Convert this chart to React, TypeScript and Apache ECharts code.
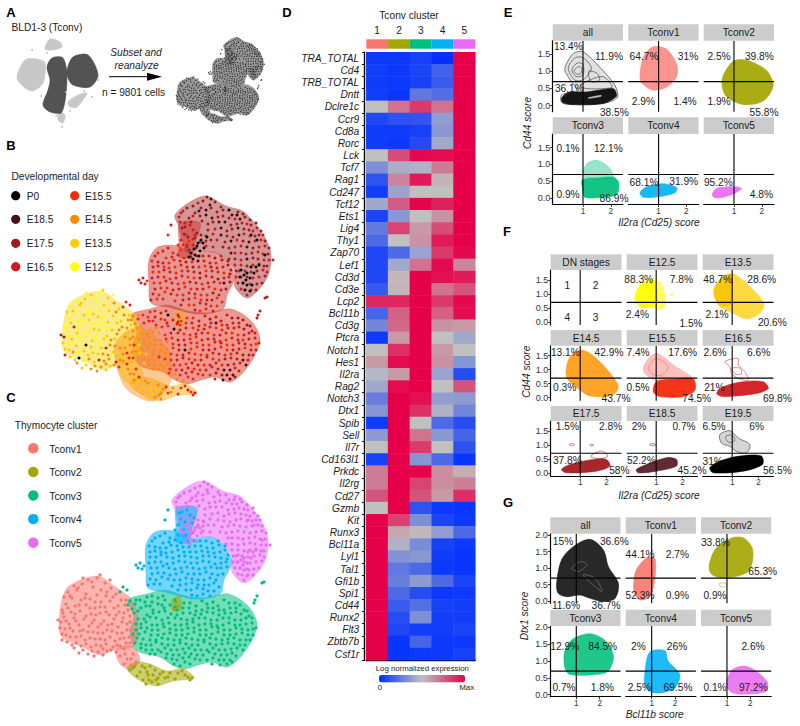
import React, { useEffect, useRef } from "react";
import * as echarts from "echarts";

const FONT = '"Liberation Sans", Arial, sans-serif';
const INK = "#1c1c1c";

const GENES = ["TRA_TOTAL","Cd4","TRB_TOTAL","Dntt","Dclre1c","Ccr9","Cd8a","Rorc","Lck","Tcf7","Rag1","Cd247","Tcf12","Ets1","Lig4","Thy1","Zap70","Lef1","Cd3d","Cd3e","Lcp2","Bcl11b","Cd3g","Ptcra","Notch1","Hes1","Il2ra","Rag2","Notch3","Dtx1","Spib","Sell","Il7r","Cd163l1","Prkdc","Il2rg","Cd27","Gzmb","Kit","Runx3","Bcl11a","Lyl1","Tal1","Gfi1b","Spi1","Cd44","Runx2","Flt3","Zbtb7b","Csf1r"];
const EXPRESSION = [
[.03,.03,.06,.0,1],[.05,.03,.07,.17,1],[.04,.03,.06,.15,1],[.05,.02,.25,.22,1],[.5,.7,.85,.7,1],[.08,.12,.13,.38,1],[.04,.04,.06,.36,1],[.04,.03,.09,.42,1],[.5,.8,.98,.97,1],[.33,.44,.45,.68,1],
[.12,.65,.93,.53,1],[.05,.4,.5,.5,1],[.42,.76,.99,.92,1],[.07,.36,.5,.62,1],[.26,.82,.6,.8,1],[.2,.5,.62,.93,1],[.08,.2,.4,.85,.98],[.08,.42,.7,.98,.65],[.08,.52,1,.96,.93],[.14,.53,1,.7,.78],
[.9,.9,1,.85,.98],[.18,.75,1,.75,.97],[.3,.73,1,.62,.6],[.03,.6,1,.5,.42],[.5,.88,1,.6,.5],[.6,.97,1,.62,.35],[.47,.6,1,.4,.1],[.42,.97,1,.5,.78],[.27,1,.96,.38,.37],[.35,1,.88,.45,.3],
[.04,1,.5,.2,.1],[.37,1,.7,.36,.18],[.5,1,.85,.5,.12],[.06,1,.35,.2,.02],[.68,1,.99,.63,.55],[.68,1,.82,.63,.67],[.78,1,.78,.6,.88],[.5,1,.12,.03,.02],[1,.83,.33,.07,.03],[1,.57,.52,.38,.2],
[1,.45,.32,.06,.03],[1,.34,.36,.04,.02],[1,.25,.2,.03,.02],[1,.27,.37,.2,.07],[1,.2,.1,.03,.03],[1,.15,.22,.06,.05],[1,.1,.33,.05,.05],[1,.08,.05,.05,.07],[1,.02,.18,.03,.03],[1,.02,.03,.03,.06]];
const CLUSTER_NUMS = ["1","2","3","4","5"];
const CLUSTERS = ["Tconv1","Tconv2","Tconv3","Tconv4","Tconv5"];
const CLUSTER_COLORS = ["#F8766D","#A3A500","#00BF7D","#00B0F6","#E76BF3"];
const DAYS = ["P0","E18.5","E17.5","E16.5","E15.5","E14.5","E13.5","E12.5"];
const DAY_COLORS = ["#000000","#4a0e14","#a01c20","#d01a20","#f52a0c","#ff8a00","#ffcc00","#ffff00"];

const CELLS_T1 = [[88,580,6],[97,578,7],[105,583,6],[74,586,7],[82,584,6],[93,587,7],[101,590,6],[111,588,5],[68,592,7],[77,590,6],[86,594,7],[97,595,7],[106,596,6],[116,594,6],[64,597,6],[72,598,7],[81,600,6],[90,599,6],[101,602,7],[110,601,6],[121,600,5],[66,604,7],[75,606,7],[86,605,6],[95,608,7],[105,607,6],[114,608,6],[125,605,5],[62,610,7],[71,612,3],[80,611,7],[91,614,6],[100,613,7],[109,615,6],[119,612,5],[128,610,6],[64,617,7],[74,618,6],[84,619,7],[94,620,7],[104,621,6],[114,619,5],[123,618,6],[130,616,5],[61,622,2],[69,624,6],[79,625,7],[89,626,6],[98,627,7],[108,625,5],[118,627,6],[127,624,5],[65,629,7],[73,631,6],[83,630,0],[93,632,7],[103,633,3],[112,631,5],[122,633,5],[131,630,4],[62,634,6],[70,637,5],[81,636,6],[90,638,6],[100,639,5],[110,637,6],[120,639,5],[129,637,5],[67,642,6],[76,643,0],[86,644,5],[96,645,3],[106,644,5],[117,645,5],[126,643,4],[74,648,5],[83,650,6],[92,651,5],[103,649,5],[113,647,3],[124,649,4],[88,654,5],[98,652,5],[107,651,6],[120,656,6],[127,659,5],[133,654,4],[124,664,6],[131,665,5],
[92,582,7],[78,588,6],[107,592,7],[70,596,6],[85,598,7],[95,602,6],[113,597,5],[68,608,6],[79,605,7],[90,608,7],[100,607,7],[118,606,6],[126,600,6],[63,613,7],[75,614,7],[86,616,7],[96,615,6],[106,612,7],[116,615,5],[124,613,5],[66,621,7],[76,621,7],[92,623,7],[101,624,6],[112,624,6],[122,622,5],[130,622,5],[60,628,6],[70,628,7],[80,631,7],[88,632,6],[98,633,6],[107,630,5],[117,633,5],[127,630,5],[66,635,6],[76,637,7],[85,640,6],[95,639,6],[105,640,5],[115,641,6],[124,638,4],[133,636,5],[62,640,3],[72,645,6],[81,646,7],[91,647,6],[101,646,5],[111,650,5],[120,646,5],[130,643,4],[79,653,6],[94,656,5],[103,655,6],[116,652,4],[125,654,5],[131,659,5],[136,662,4],[58,620,2],[100,575,6],[110,580,7],[83,578,7]];
const CELLS_T2 = [[130,670,6],[135,666,6],[140,672,6],[145,668,5],[150,666,6],[148,675,6],[155,670,5],[160,674,5],[143,680,6],[152,682,5],[158,684,5],[165,678,4],[170,673,5],[175,679,4],[182,671,4],[188,677,4],[192,678,3],[175,600,5],[178,606,4],[174,609,3],
[133,668,6],[142,666,5],[147,672,6],[153,675,6],[158,678,5],[137,676,6],[149,680,6],[156,680,5],[163,672,4],[168,677,5],[178,673,4],[185,675,3],[190,680,4],[146,684,6],[176,602,4]];
const CELLS_T3 = [[147,597,4],[158,598,3],[130,601,5],[140,600,4],[152,602,3],[165,600,0],[135,604,4],[146,606,3],[158,604,4],[170,605,3],[184,603,4],[196,606,3],[207,604,2],[218,606,3],[229,603,2],[132,609,5],[141,608,4],[153,610,4],[164,608,3],[177,610,4],[189,608,3],[202,610,4],[213,608,1],[224,610,3],[236,608,3],[244,610,2],[134,613,5],[147,615,5],[159,612,4],[171,614,0],[183,613,3],[195,615,4],[207,612,3],[219,615,4],[231,613,3],[241,614,2],[249,616,3],[138,619,5],[150,617,5],[162,620,4],[175,618,3],[187,620,4],[199,618,3],[211,620,4],[223,618,3],[235,620,4],[246,618,3],[136,624,5],[146,622,5],[157,625,5],[169,623,4],[181,625,3],[193,622,4],[205,624,3],[217,626,4],[229,623,3],[240,625,4],[252,623,3],[141,628,5],[152,630,5],[164,627,5],[176,630,3],[188,628,4],[200,630,4],[212,627,3],[224,630,4],[236,628,3],[248,630,4],[133,634,6],[145,632,5],[158,635,5],[170,633,4],[182,635,0],[194,632,4],[206,635,3],[218,632,4],[230,635,3],[242,633,4],[253,635,3],[137,638,6],[150,640,5],[162,638,5],[174,640,4],[186,638,3],[198,640,4],[210,638,3],[222,640,4],[234,638,3],[246,640,2],[135,643,5],[146,645,5],[156,642,4],[168,645,4],[180,643,3],[192,645,4],[204,642,3],[216,645,4],[228,643,3],[240,645,1],[141,648,6],[152,650,5],[165,648,5],[177,650,4],[189,648,3],[201,650,4],[213,648,3],[225,650,2],[237,648,3],[150,654,5],[161,652,5],[173,655,4],[185,653,3],[197,655,4],[209,652,3],[221,655,1],[232,653,3],[166,658,4],[177,660,4],[189,657,3],[200,660,4],[213,658,2],[224,660,1],[174,664,5],[185,662,4],[212,664,3],[227,664,1],
[152,596,4],[163,596,3],[136,600,5],[145,602,4],[175,600,3],[190,603,4],[202,601,3],[213,602,3],[224,600,3],[235,603,2],[128,605,5],[150,606,4],[162,605,4],[175,607,3],[183,608,4],[196,611,3],[208,608,3],[219,610,4],[230,608,3],[240,605,2],[138,611,5],[153,613,5],[165,611,4],[177,615,3],[190,613,4],[201,614,3],[213,613,4],[225,613,3],[236,612,3],[247,611,2],[144,619,5],[156,618,5],[168,618,3],[181,619,4],[193,619,3],[205,618,4],[217,620,3],[229,618,4],[241,620,3],[252,618,3],[141,624,5],[152,625,5],[163,624,4],[175,625,3],[187,624,4],[199,625,3],[211,624,3],[223,625,4],[235,625,3],[246,624,3],[256,628,3],[136,630,6],[147,628,5],[158,630,5],[170,629,4],[182,630,3],[194,628,4],[206,630,4],[218,628,3],[230,630,4],[242,629,3],[253,629,4],[139,634,5],[151,635,5],[164,634,5],[176,635,3],[188,634,4],[200,635,3],[212,634,3],[224,635,4],[236,634,3],[248,635,3],[143,639,6],[156,640,5],[168,639,4],[180,640,3],[192,639,4],[204,640,4],[216,639,3],[228,639,4],[240,640,2],[250,640,3],[141,644,5],[151,645,5],[162,644,4],[174,645,3],[186,644,4],[198,645,3],[210,644,4],[222,644,2],[234,644,3],[245,645,3],[146,650,5],[158,650,5],[171,650,4],[183,649,4],[195,650,3],[207,650,3],[219,650,4],[231,649,3],[243,650,1],[155,654,5],[167,654,4],[179,655,3],[191,654,4],[203,655,3],[215,654,3],[227,655,1],[236,656,3],[172,659,5],[183,658,3],[195,659,4],[207,660,4],[219,660,2],[230,660,1],[180,666,5],[190,664,4],[220,665,1],[232,662,2],[255,600,3],[257,596,3],[254,603,2],[262,583,3],[264,582,2],[123,587,4],[120,592,4],[127,590,3]];
const CELLS_T4 = [[160,536,3],[170,538,4],[186,535,2],[152,541,3],[163,543,4],[175,540,3],[188,542,2],[200,541,3],[212,543,2],[149,546,4],[160,548,3],[171,545,4],[183,547,2],[195,546,1],[207,548,3],[219,545,2],[155,551,3],[166,553,4],[178,550,3],[190,552,2],[202,551,4],[214,553,3],[225,550,2],[150,557,4],[161,555,3],[173,558,4],[185,556,3],[197,558,2],[209,556,3],[221,558,4],[228,555,2],[155,562,3],[167,564,4],[179,561,3],[191,563,4],[203,561,3],[215,564,2],[226,562,3],[151,568,4],[163,566,3],[175,569,4],[187,567,3],[199,569,4],[211,567,3],[221,568,1],[158,573,4],[170,575,3],[182,572,4],[194,574,3],[206,572,4],[218,575,3],[150,579,3],[162,577,4],[174,580,4],[186,578,3],[198,580,4],[210,578,2],[154,584,4],[180,585,3],[192,583,4],[204,585,3],[214,583,4],[186,590,4],[197,588,3],[208,591,4],[192,595,3],[203,594,4],[182,512,2],[190,515,3],[185,522,2],[178,525,3],[194,518,2],
[165,533,3],[178,535,4],[155,538,4],[169,542,3],[181,543,4],[194,541,2],[206,541,3],[218,541,3],[155,547,3],[166,548,4],[177,546,3],[189,547,4],[201,546,3],[213,548,4],[225,546,2],[150,552,3],[161,552,4],[172,552,4],[184,552,3],[196,552,4],[208,552,2],[220,552,3],[156,557,4],[167,557,3],[179,556,4],[191,557,3],[203,556,4],[215,557,3],[227,559,2],[149,563,3],[161,562,4],[173,563,3],[185,562,4],[197,563,2],[209,562,3],[221,563,3],[157,568,4],[169,568,3],[181,568,4],[193,568,3],[205,568,3],[217,568,4],[227,567,2],[152,574,3],[164,573,4],[176,574,3],[188,574,4],[200,574,3],[212,574,4],[223,574,2],[156,580,4],[168,579,3],[180,580,4],[192,579,3],[204,580,4],[216,580,3],[148,585,3],[160,584,4],[172,586,4],[186,584,3],[198,585,4],[209,585,3],[219,587,4],[178,590,3],[191,590,4],[203,589,3],[214,591,4],[197,596,4],[210,596,3],[179,513,2],[187,510,3],[192,523,3],[181,519,2],[184,530,3],[175,530,4],[136,565,3],[140,563,3],[144,566,4],[138,568,3],[142,569,3],[168,510,3],[165,520,4]];
const CELLS_T5 = [[200,486,2],[208,484,1],[190,491,2],[198,493,2],[207,490,1],[218,492,2],[180,496,3],[192,498,2],[203,495,1],[214,497,2],[226,495,0],[235,497,2],[176,502,3],[186,503,2],[197,501,2],[209,503,1],[220,501,2],[232,504,3],[242,502,2],[182,508,3],[205,509,2],[216,507,1],[228,510,2],[239,508,3],[248,510,2],[212,514,3],[224,516,2],[235,513,1],[246,515,2],[254,513,3],[192,520,3],[203,521,2],[218,520,1],[230,522,2],[241,519,3],[252,521,2],[260,520,3],[186,526,4],[197,527,3],[208,525,2],[222,527,2],[234,525,3],[246,527,1],[258,525,3],[184,532,3],[193,533,2],[203,531,3],[226,533,2],[238,531,3],[250,533,2],[262,531,3],[232,538,3],[243,539,2],[255,537,3],[265,539,2],[226,544,2],[238,545,3],[250,543,2],[261,545,3],[232,550,3],[244,551,2],[256,549,3],[264,551,2],[236,556,3],[248,557,2],[260,555,3],[238,562,2],[250,563,3],[262,561,2],[240,568,3],[254,569,2],[238,574,3],[248,575,2],
[188,538,0],[191,534,0],[194,531,0],[197,536,0],[200,528,0],[192,540,0],[186,542,0],[198,525,0],[204,522,0],[195,528,0],[190,544,0],[196,541,0],[201,533,0],[238,555,0],[241,560,0],[244,558,0],[247,563,0],[240,568,0],[244,570,0],[249,570,0],[242,575,0],[247,576,0],[251,558,0],[237,562,0],[253,552,0],[256,550,0],[248,552,0],[243,565,0],[234,500,0],[248,520,0],[254,525,0],[262,540,0],
[204,482,2],[212,487,2],[195,488,3],[184,493,2],[196,496,1],[208,493,2],[220,495,2],[229,500,1],[240,499,2],[178,498,3],[190,501,3],[203,500,1],[215,502,2],[226,503,2],[237,504,1],[247,505,2],[177,507,3],[188,507,2],[199,506,2],[210,507,2],[222,507,1],[234,509,2],[244,509,3],[253,508,2],[205,515,2],[218,513,1],[229,514,2],[241,514,2],[250,516,3],[258,516,2],[183,520,4],[198,520,2],[210,519,3],[224,521,2],[236,520,1],[247,521,3],[256,520,2],[190,524,3],[203,526,2],[214,525,3],[228,526,1],[240,526,2],[252,526,3],[262,526,2],[180,530,4],[190,530,3],[210,532,3],[220,532,2],[232,532,3],[244,532,1],[256,532,3],[266,533,2],[228,538,1],[238,538,3],[249,538,2],[260,539,3],[232,544,2],[244,544,1],[255,544,2],[266,545,3],[238,550,3],[250,550,3],[261,551,2],[233,556,2],[242,556,3],[254,556,2],[264,557,3],[233,562,3],[244,562,2],[256,562,3],[235,568,2],[247,569,3],[259,568,2],[244,580,3],[253,575,2],[270,545,3]];
const CELLS = [CELLS_T1, CELLS_T2, CELLS_T3, CELLS_T4, CELLS_T5];

// cell-cloud outlines in the same embedding coordinates
const CLOUD_T1 = [[[59,628],[62,600],[69,586],[97,576],[114,586],[130,598],[137,612],[138,630],[134,646],[114,650],[100,655],[83,647],[63,638]],[[116,650],[132,646],[140,660],[130,669],[120,664]]];
const CLOUD_T2 = [[[127,668],[137,662],[150,664],[167,671],[183,669],[194,678],[173,681],[157,686],[143,682],[132,675]],[[172,600],[180,596],[181,610],[173,611]]];
const CLOUD_T3 = [[[128,600],[147,594],[165,590],[185,596],[205,598],[228,594],[248,606],[257,625],[246,650],[228,667],[212,662],[198,665],[184,669],[172,665],[160,657],[142,653],[134,648],[130,632],[134,615]]];
const CLOUD_T4 = [[[146,545],[155,532],[175,531],[190,538],[214,538],[232,560],[224,580],[220,594],[195,599],[165,592],[148,588],[146,568]],[[176,530],[177,508],[197,508],[192,528],[188,542],[176,542]]];
const CLOUD_T5 = [[[172,500],[187,487],[203,481],[223,491],[241,497],[261,521],[268,540],[264,563],[245,583],[232,572],[232,556],[214,538],[200,537],[183,537],[180,528],[175,510]]];
const CLOUDS = [CLOUD_T1, CLOUD_T2, CLOUD_T3, CLOUD_T4, CLOUD_T5];
const DAY_TINTS = ["#f8d820","#f4b010","#dc3420","#cc3028","#a83030"];
const ORANGE_BAND = [[112,630],[135,612],[165,635],[168,665],[150,686],[122,672]];

// panel A, left map
const MAP_LIGHT = [[[17,78],[25,60],[37,59],[45,63],[43,83],[33,91],[25,88]],[[45,49],[50,39],[60,42],[62,47],[53,50]],[[68,102],[78,95],[87,93],[83,100],[77,107],[70,107]],[[59,112],[65,115],[63,123],[58,120]]];
const MAP_DARK = [[[47,67],[52,58],[63,58],[67,77],[62,112],[50,112],[43,105],[48,90],[50,80]],[[67,70],[73,57],[88,55],[98,75],[90,87],[73,85],[68,78]]];
const MAP_STRAY = [[32,50],[66,92],[92,97],[62,127],[56,116],[70,111],[84,91],[98,80],[41,96],[47,53]];

const E_CONTOURS = [
 [{c:"#999",o:.3,p:[[.39,1.2],[.65,1.52],[.99,1.58],[1.61,1.12],[2.16,.58],[2.22,.22],[.53,.3],[.77,.45],[.53,.76],[.35,1.03]]},
  {c:"#333",o:.75,line:1,p:[[.39,1.2],[.65,1.52],[.99,1.58],[1.61,1.12],[2.16,.58],[2.22,.22],[1.61,.05],[.53,.03],[.23,.09],[.23,.31],[.77,.45],[.53,.76],[.35,1.03]]},
  {c:"#333",o:.75,line:1,p:[[.47,1.1],[.72,1.4],[1,1.4],[1.3,1.1],[1,.75],[.7,.75]]},
  {c:"#333",o:.75,line:1,p:[[.6,1.05],[.8,1.25],[1,1.2],[1,.9],[.75,.85]]},
  {c:"#333",o:.75,line:1,p:[[.68,1.02],[.85,1.14],[.95,1.1],[.93,.95],[.78,.92]]},
  {c:"#333",o:.75,line:1,p:[[1.2,1],[1.5,.95],[1.6,.75],[1.3,.7]]},
  {c:"#333",o:.75,line:1,p:[[.9,.6],[1.7,.85],[2.05,.55],[1.8,.5],[1.1,.5]]},
  {c:"#0a0a0a",o:.95,p:[[.23,.22],[.47,.38],[1.13,.4],[1.73,.47],[2.1,.49],[2.2,.27],[1.73,.06],[.65,.03],[.27,.09]]},
  {c:"#d0d0d0",o:.9,p:[[1.2,.23],[1.65,.3],[1.65,.27],[1.2,.21]]}],
 [{c:"#F8766D",o:.78,p:[[.33,.94],[.48,1.47],[.81,1.72],[1.29,1.65],[1.65,1.21],[1.65,.85],[1.29,.54],[.81,.45],[.39,.67]]}],
 [{c:"#A3A500",o:.92,p:[[.57,.76],[.96,1.29],[1.45,1.33],[2.17,1.03],[2.41,.58],[2.05,.13],[1.33,.03],[.72,.27]]}],
 [{c:"#00BF7D",o:.4,p:[[.99,.65],[1.13,1.01],[1.49,1.12],[1.92,.92],[2.1,.6],[1.5,.55]]},{c:"#00BF7D",o:.92,p:[[.98,.55],[1.5,.6],[2.1,.62],[2.28,.47],[2.22,.12],[1.73,.03],[1.07,.03],[.98,.29]]}],
 [{c:"#00B0F6",o:.9,p:[[.33,.16],[.57,.34],[1.17,.43],[1.65,.31],[1.59,.16],[1.05,.05],[.45,.03]]}],
 [{c:"#E76BF3",o:.92,p:[[.22,.12],[.36,.29],[.96,.34],[1.27,.29],[.96,.12],[.48,.01],[.27,.03]]}]];

const F_CONTOURS = [
 [],
 [{c:"#ffff00",o:.95,p:[[.19,.9],[.38,1.32],[.76,1.5],[1.01,1.44],[1.01,.6],[.51,.51],[.25,.67]]},{c:"#ffff00",o:.6,p:[[1,1.44],[1.14,1.44],[1.33,.96],[1.33,.55],[1.01,.43],[.95,.8]]},{c:"#ffff00",o:.7,p:[[1.54,1],[1.62,1.02],[1.62,.95],[1.54,.95]]}],
 [{c:"#ffd21e",o:.85,p:[[.3,1.08],[.53,1.5],[.96,1.74],[1.54,1.38],[2.2,.67],[2.05,.31],[1.54,.11],[1.04,.31],[.53,.55]]},{c:"#f8c000",o:.8,p:[[.3,1.08],[.53,1.5],[.96,1.68],[.96,.67],[.53,.6]]}],
 [{c:"#ff9a10",o:.9,p:[[.46,.93],[.61,1.46],[1.05,1.7],[1.62,1.4],[2.44,.45],[2.25,.1],[1.37,.06],[.92,.33],[.54,.63]]}],
 [{c:"#f8766d",o:.45,p:[[.51,1.05],[.76,1.46],[1.08,1.57],[1.65,1.17],[2.41,.67],[1.77,.57],[1.14,.57],[.63,.81]]},{c:"#f8766d",o:.9,line:1,p:[[.7,1.05],[1,1.4],[1.45,1.1],[1.2,.8],[.85,.85]]},{c:"#f52a0c",o:.95,p:[[.89,.21],[1.01,.57],[1.77,.67],[2.41,.67],[2.47,.27],[2.03,.04],[1.14,.04]]}],
 [{c:"#e04848",o:.8,line:1,p:[[.72,1.29],[1.23,1.4],[1.23,1.17],[1.48,.93],[1.61,.63],[1.23,.69],[.97,.87],[.91,1.11]]},{c:"#e04848",o:.8,line:1,p:[[1,1.05],[1.3,1.05],[1.35,.85],[1.1,.85]]},{c:"#d01a20",o:.95,p:[[.41,.15],[.66,.39],[1.42,.57],[2.18,.57],[2.37,.33],[1.92,.15],[.66,.04]]}],
 [{c:"#a01c20",o:.7,line:1,p:[[.58,1.01],[.67,1.05],[.78,1.01],[.67,.97]]},{c:"#a01c20",o:.7,line:1,p:[[1.36,.99],[1.43,1.02],[1.52,.99],[1.43,.96]]},{c:"#a01c20",o:.7,line:1,p:[[1.4,.6],[1.81,.78],[2.05,.6],[1.7,.5]]},{c:"#a01c20",o:.95,p:[[.29,.12],[.61,.3],[1.49,.48],[2,.48],[2.13,.24],[1.62,.06],[.48,0]]}],
 [{c:"#6a1a20",o:.7,line:1,p:[[.75,1.01],[.86,1.05],[.98,1.01],[.86,.97]]},{c:"#4a0e14",o:.88,p:[[.25,.12],[.63,.3],[1.39,.54],[1.77,.48],[1.77,.24],[1.01,.06],[.32,0]]}],
 [{c:"#888",o:.35,p:[[.53,1.37],[.91,1.51],[1.23,1.25],[1.67,1.01],[1.54,.71],[1.16,.77],[.91,.95],[.59,1.07]]},{c:"#444",o:.75,line:1,p:[[.53,1.37],[.91,1.51],[1.23,1.25],[1.67,1.01],[1.54,.71],[1.16,.77],[.91,.95],[.59,1.07]]},{c:"#444",o:.75,line:1,p:[[.75,1.3],[1,1.35],[1.1,1.15],[.85,1.1]]},{c:"#000",o:1,p:[[.15,.18],[.53,.42],[1.29,.6],[2.11,.6],[2.15,.3],[1.42,.06],[.28,0]]}]];

const G_CONTOURS = [
 [{c:"#0a0a0a",o:.88,p:[[.16,.54],[.37,1.25],[.87,1.65],[1.59,1.87],[2.16,1.55],[2.37,1.05],[2.8,.54],[2.66,.09],[2.16,-.01],[1.59,.09],[1.16,.19],[.59,.14],[.23,.24]]},{c:"#999",o:.6,line:1,p:[[.8,1],[1.2,1.2],[1.45,1.1],[1.1,.9]]},{c:"#999",o:.6,line:1,p:[[1.3,.8],[1.7,.5],[2.1,.3],[1.8,.7]]}],
 [{c:"#F8766D",o:.9,p:[[.23,.54],[.34,.95],[.77,1.3],[1.13,1.3],[1.13,.64],[.91,.14],[.49,.04],[.27,.24]]}],
 [{c:"#A3A500",o:.9,p:[[.24,1.1],[.53,1.6],[1.24,1.92],[1.74,1.9],[2.1,1.55],[1.96,.94],[1.31,.74],[.67,.72],[.31,.84]]},{c:"#A3A500",o:.6,line:1,p:[[.67,.54],[.96,.54],[.96,.44],[.74,.44]]}],
 [{c:"#00BF7D",o:.88,p:[[.51,1.31],[.87,1.66],[1.59,1.81],[2.23,1.61],[2.59,1.16],[2.37,.7],[1.87,.6],[.73,.6],[.51,.8]]}],
 [{c:"#00B0F6",o:.88,p:[[.7,.6],[.91,1.26],[1.56,1.31],[1.7,1],[2.2,.6],[1.99,.2],[1.34,.05],[.91,.1],[.7,.3]]}],
 [{c:"#E76BF3",o:.88,p:[[1.03,.5],[1.24,.75],[1.74,.85],[2.24,.7],[2.74,.35],[2.67,.1],[1.96,.02],[1.24,.05],[.99,.25]]}]];

const E_STRIPS = ["all","Tconv1","Tconv2","Tconv3","Tconv4","Tconv5"];
const F_STRIPS = ["DN stages","E12.5","E13.5","E14.5","E15.5","E16.5","E17.5","E18.5","E19.5"];
const G_STRIPS = ["all","Tconv1","Tconv2","Tconv3","Tconv4","Tconv5"];
const E_PCT = [["13.4%",235,140],["11.9%",357,168],["36.1%",238,265],["38.5%",373,336],["64.7%",462,168],["31%",594,168],["2.9%",460,305],["1.4%",585,305],["2.5%",687,168],["39.8%",808,168],["1.9%",687,305],["55.8%",822,336],["0.1%",234,446],["12.1%",355,446],["0.9%",234,582],["86.9%",372,594],["68.1%",462,546],["31.9%",581,543],["95.2%",685,546],["4.8%",814,582]];
const F_PCT = [["1",232,180],["2",317,180],["4",232,276],["3",317,276],["88.3%",446,164],["7.8%",574,164],["2.4%",442,268],["1.5%",603,295],["48.7%",683,164],["28.6%",815,164],["2.1%",681,268],["20.6%",847,291],["13.1%",226,383],["42.9%",357,383],["0.3%",224,486],["43.7%",378,520],["7.4%",444,383],["17.6%",578,383],["0.5%",444,486],["74.5%",620,520],["2.6%",675,383],["6.6%",806,383],["21%",673,486],["69.8%",862,520],["1.5%",232,604],["2.8%",362,604],["37.8%",232,706],["58%",388,737],["2%",447,604],["0.7%",582,604],["52.2%",454,706],["45.2%",606,737],["6.5%",672,604],["6%",800,604],["31%",668,708],["56.5%",862,737]];
const G_PCT = [["15%",219,213],["36.6%",373,213],["11.6%",228,405],["36.7%",348,405],["44.1%",450,254],["2.7%",562,254],["52.3%",450,375],["0.9%",562,375],["33.8%",676,216],["65.3%",818,305],["0.9%",675,375],["12.9%",224,530],["84.5%",338,530],["0.7%",222,652],["1.8%",337,652],["2%",445,530],["26%",561,530],["2.5%",448,652],["69.5%",564,652],["2.6%",789,530],["0.1%",675,652],["97.2%",790,652]];

function buildOption() {
  const grid: any[] = [], xAxis: any[] = [], yAxis: any[] = [], series: any[] = [], graphic: any[] = [];
  const hidden = (min: number, max: number, inverse = false) => ({ type: "value", show: false, min, max, inverse });
  const addGrid = (l: number, t: number, w: number, h: number, x: any, y: any) => {
    grid.push({ left: l, top: t, width: w, height: h, containLabel: false });
    const i = grid.length - 1;
    xAxis.push({ ...x, gridIndex: i });
    yAxis.push({ ...y, gridIndex: i });
    return i;
  };
  const txt = (s: string, x: number, y: number, o: any = {}) => {
    const { rotation, ...st } = o;
    graphic.push({ type: "text", x, y, rotation, z: 50, silent: true, style: { text: s, fontFamily: FONT, fontSize: 10.2, fill: INK, align: "center", verticalAlign: "middle", ...st } });
  };
  const polys = (i: number, rings: any[], z = 2) => {
    series.push({
      type: "custom", xAxisIndex: i, yAxisIndex: i, silent: true, z, clip: false,
      data: rings.map((r) => r.p[0]),
      renderItem: (p: any, api: any) => {
        const r = rings[p.dataIndex];
        return {
          type: "polygon",
          shape: { points: r.p.map((q: number[]) => api.coord(q)), smooth: 0.3 },
          style: r.line
            ? { fill: "none", stroke: r.c, lineWidth: 0.8, opacity: r.o }
            : { fill: r.c, stroke: r.c, lineWidth: 0.6, opacity: r.o },
        };
      },
    });
  };
  const dots = (i: number, data: number[][], color: string, size: number, name?: string) => {
    series.push({ type: "scatter", name, xAxisIndex: i, yAxisIndex: i, data, symbolSize: size, silent: true, z: 3, clip: false, itemStyle: { color, opacity: 1 } });
  };
  const CLOUD_ORDER = [4, 2, 3, 0, 1];

  /* ---------- panel letters ---------- */
  ([["A",11,12],["B",11,145],["C",11,397],["D",287,12],["E",508,12],["F",507,231],["G",508,502]] as any[]).forEach(([s, x, y]) =>
    txt(s, x, y, { fontSize: 13, fontWeight: "bold", fill: "#000" }));

  /* ---------- panel A ---------- */
  txt("BLD1-3 (Tconv)", 11.5, 27.7, { align: "left" });
  txt("Subset and", 136, 52.7, { fontStyle: "italic" });
  txt("reanalyze", 136.7, 65.3, { fontStyle: "italic" });
  txt("n = 9801 cells", 133.5, 92.7);
  graphic.push({ type: "line", z: 50, silent: true, shape: { x1: 109, y1: 76.7, x2: 150, y2: 76.7 }, style: { stroke: "#000", lineWidth: 1 } });
  graphic.push({ type: "polygon", z: 50, silent: true, shape: { points: [[147, 72.7], [162, 76.7], [147, 80.7]] }, style: { fill: "#000" } });
  const aLeft = addGrid(0, 30, 110, 100, hidden(0, 110), hidden(30, 130, true));
  polys(aLeft, MAP_LIGHT.map((p) => ({ p, c: "#c8c8c8", o: 1 })));
  polys(aLeft, MAP_DARK.map((p) => ({ p, c: "#4a4a4a", o: 0.95 })));
  dots(aLeft, MAP_STRAY, "#c4c4c4", 2);
  const aRight = addGrid(175, 35, 93.4, 90, hidden(55, 280), hidden(475, 690, true));
  polys(aRight, CLOUDS.flat().map((p) => ({ p, c: "#777", o: 0.75 })));
  dots(aRight, CELLS.flat().map((c) => [c[0], c[1]]), "#2a2a2a", 1.25);

  /* ---------- panel B ---------- */
  const bGrid = addGrid(58, 190, 225, 215, hidden(55, 280), hidden(475, 690, true));
  const bRings: any[] = [];
  CLOUD_ORDER.forEach((i) => CLOUDS[i].forEach((p) => bRings.push({ p, c: DAY_TINTS[i], o: 0.5 })));
  bRings.push({ p: ORANGE_BAND, c: "#f88a10", o: 0.45 });
  polys(bGrid, bRings);
  DAYS.map((_, i) => DAYS.length - 1 - i).forEach((d) => {
    dots(bGrid, CELLS.flat().filter((c) => c[2] === d).map((c) => [c[0], c[1]]), DAY_COLORS[d], 3, DAYS[d]);
  });
  txt("Developmental day", 11.5, 176.7, { align: "left" });
  const legendY = [195.7, 219.3, 243.3, 266.7];
  DAYS.forEach((d, i) => {
    const col = i < 4 ? 0 : 1;
    const row = i < 4 ? i : i - 4;
    const cx = col ? 74.7 : 15.7;
    graphic.push({ type: "circle", z: 50, silent: true, shape: { cx, cy: legendY[row], r: 4.6 }, style: { fill: DAY_COLORS[i] } });
    txt(d, col ? 85 : 26.7, legendY[row] + 0.5, { align: "left" });
  });

  /* ---------- panel C ---------- */
  const cGrid = addGrid(55, 475, 225, 215, hidden(55, 280), hidden(475, 690, true));
  CLOUD_ORDER.forEach((i) => polys(cGrid, CLOUDS[i].map((p) => ({ p, c: CLUSTER_COLORS[i], o: 0.55 }))));
  CELLS.forEach((cl, i) => dots(cGrid, cl.map((c) => [c[0], c[1]]), CLUSTER_COLORS[i], 3.2, CLUSTERS[i]));
  txt("Thymocyte cluster", 14.7, 425, { align: "left" });
  CLUSTERS.forEach((s, i) => {
    const y = 448.3 + i * 23.6;
    graphic.push({ type: "circle", z: 50, silent: true, shape: { cx: 33.3, cy: y, r: 5.2 }, style: { fill: CLUSTER_COLORS[i] } });
    txt(s, 49.3, y + 0.7, { align: "left" });
  });

  /* ---------- panel D ---------- */
  const strip = addGrid(366.3, 39.3, 109, 9.4,
    { type: "category", data: CLUSTER_NUMS, position: "top", axisLine: { show: false }, axisTick: { show: false },
      axisLabel: { fontFamily: FONT, fontSize: 10.2, color: INK, margin: 4 } },
    { type: "value", show: false, min: 0, max: 1 });
  series.push({ type: "bar", xAxisIndex: strip, yAxisIndex: strip, silent: true, barWidth: "100%",
    data: CLUSTER_COLORS.map((color) => ({ value: 1, itemStyle: { color } })) });
  txt("Tconv cluster", 409, 15.3);
  const hm = addGrid(366.3, 52.2, 109, 608,
    { type: "category", data: CLUSTER_NUMS, axisLine: { show: true, lineStyle: { color: "#000", width: 1.4 } }, axisTick: { show: false }, axisLabel: { show: false } },
    { type: "category", data: GENES, inverse: true, offset: 1.6,
      axisLine: { show: true, lineStyle: { color: "#000", width: 1.4 } },
      axisTick: { show: true, length: 2.6, lineStyle: { color: "#000", width: 1 } },
      axisLabel: { interval: 0, fontFamily: FONT, fontStyle: "italic", fontSize: 10.2, color: INK, margin: 5.5 } });
  const hmIndex = series.length;
  const hmData: number[][] = [];
  EXPRESSION.forEach((row, y) => row.forEach((v, x) => hmData.push([x, y, v])));
  series.push({ type: "heatmap", xAxisIndex: hm, yAxisIndex: hm, data: hmData, silent: true, itemStyle: { borderWidth: 0 } });
  txt("Log normalized expression", 422.3, 668.7, { fontSize: 7.8 });
  txt("0", 379.7, 687.7, { fontSize: 8 });
  txt("Max", 466.7, 687.7, { fontSize: 8 });

  /* ---------- facets ---------- */
  const facets = (cols: number[], w: number, rows: number[][], xr: number[], yr: number[], yT: number[], yFmt: any, strips: string[], rings: any[][], vBar = 1, hBar = 0.7) => {
    strips.forEach((s, k) => {
      const c = k % cols.length, r = Math.floor(k / cols.length);
      const [st, sb, pb] = rows[r];
      graphic.push({ type: "rect", z: 40, silent: true, shape: { x: cols[c], y: st, width: w, height: sb - st }, style: { fill: "#cccccc" } });
      txt(s, cols[c] + w / 2, (st + sb) / 2 + 0.3, {});
      const showX = r === rows.length - 1, showY = c === 0;
      const i = addGrid(cols[c], sb, w, pb - sb,
        { type: "value", min: xr[0], max: xr[1], show: showX, splitLine: { show: false },
          axisLine: { show: true, onZero: false, lineStyle: { color: "#000", width: 1.2 } },
          axisTick: { length: 2.5, customValues: [1, 2], lineStyle: { color: "#333" } },
          axisLabel: { customValues: [1, 2], fontFamily: FONT, fontSize: 8.2, color: "#333", margin: 3 } },
        { type: "value", min: yr[0], max: yr[1], show: showY, splitLine: { show: false },
          axisLine: { show: true, onZero: false, lineStyle: { color: "#000", width: 1.2 } },
          axisTick: { length: 2.5, customValues: yT, lineStyle: { color: "#333" } },
          axisLabel: { customValues: yT, formatter: yFmt, fontFamily: FONT, fontSize: 9, color: "#333", margin: 2.5 } });
      polys(i, rings[k]);
      const lineS = (data: number[][]) => series.push({ type: "line", xAxisIndex: i, yAxisIndex: i, data, symbol: "none", silent: true, z: 6, lineStyle: { color: "#000", width: 1.1 } });
      lineS([[vBar, yr[0]], [vBar, yr[1]]]);
      lineS([[xr[0], hBar], [xr[1], hBar]]);
    });
  };
  const fmt = (v: number) => v.toFixed(1);
  facets([552.7, 628.3, 703.7], 70.3, [[24.3, 40.7, 111.7], [117.3, 134, 204.3]], [-0.09, 2.44], [-0.18, 1.9], [0, .5, 1, 1.5], fmt, E_STRIPS, E_CONTOURS);
  facets([550.7, 626.7, 702.7], 70.8, [[254.3, 270, 325], [330, 345.7, 400.7], [406, 421, 475.8]], [-0.12, 2.57], [-0.107, 1.857], [0, .5, 1, 1.5], fmt, F_STRIPS, F_CONTOURS);
  facets([550.3, 625.7, 701], 70.2, [[517.3, 533.7, 603.3], [609.7, 626, 696.7]], [-0.11, 2.89], [-0.06, 2.04], [0, .5, 1, 1.5, 2], fmt, G_STRIPS, G_CONTOURS);

  E_PCT.forEach(([s, x, y]: any) => txt(s, 490 + x / 3, y / 3));
  F_PCT.forEach(([s, x, y]: any) => txt(s, 490 + x / 3, 225 + y / 3));
  G_PCT.forEach(([s, x, y]: any) => txt(s, 490 + x / 3, 470 + y / 3));

  const axisTitle = { fontStyle: "italic" };
  txt("Cd44 score", 527.3, 123, { ...axisTitle, rotation: Math.PI / 2 });
  txt("Il2ra (Cd25) score", 659, 222, axisTitle);
  txt("Cd44 score", 526.7, 371.7, { ...axisTitle, rotation: Math.PI / 2 });
  txt("Il2ra (Cd25) score", 659, 495, axisTitle);
  txt("Dtx1 score", 524.3, 616, { ...axisTitle, rotation: Math.PI / 2 });
  txt("Bcl11b score", 654.7, 714.3, axisTitle);

  return {
    animation: false,
    backgroundColor: "#fff",
    textStyle: { fontFamily: FONT },
    grid, xAxis, yAxis, series, graphic,
    visualMap: [{
      type: "continuous", min: 0, max: 1, dimension: 2, seriesIndex: hmIndex, show: true,
      orient: "horizontal", left: 364, top: 660, itemWidth: 7.5, itemHeight: 86, calculable: false, text: null, showLabel: false,
      inRange: { color: ["#0030ff", "#c0c0c0", "#e6004a"] },
    }],
  };
}

export default function App() {
  const ref = useRef<HTMLDivElement>(null);
  useEffect(() => {
    document.body.style.margin = "0";
    const chart = echarts.init(ref.current!, undefined, { renderer: "svg" });
    chart.setOption(buildOption() as any);
    return () => chart.dispose();
  }, []);
  return <div ref={ref} style={{ width: 800, height: 726 }} />;
}
